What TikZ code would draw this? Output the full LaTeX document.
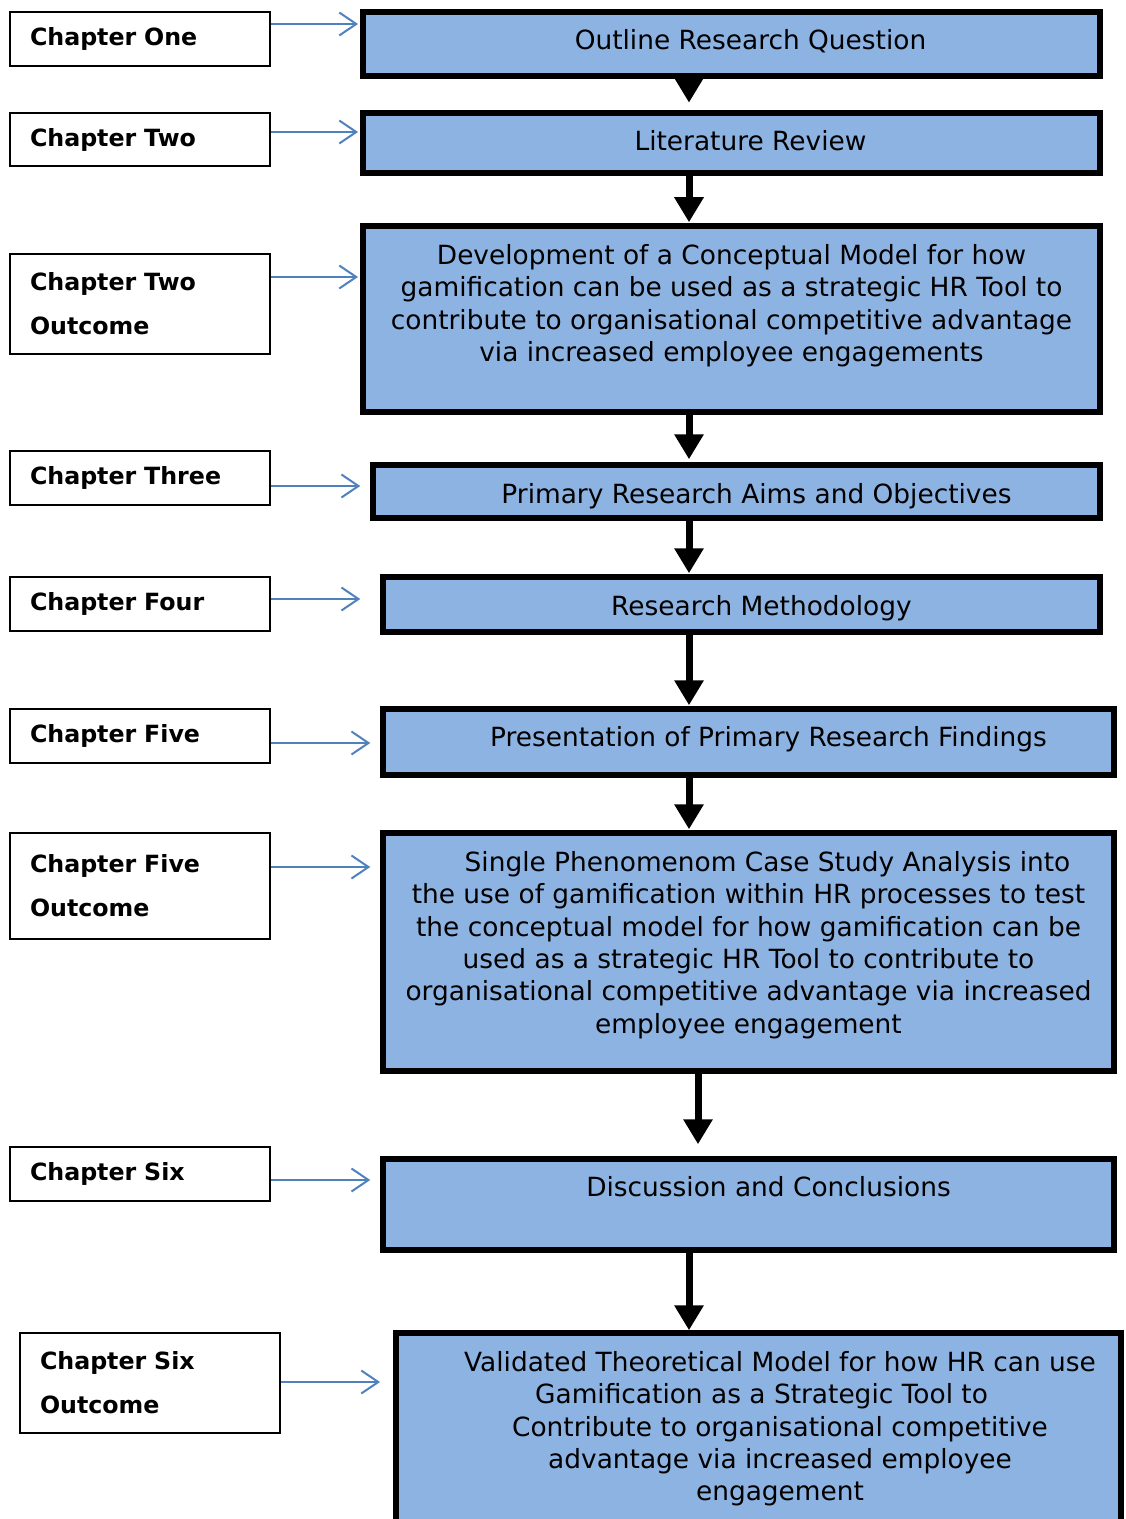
\documentclass[tikz,border=0pt]{standalone}
\usepackage{fontspec}
\setmainfont{DejaVu Sans}
\usepackage{xcolor}
\definecolor{stageblue}{HTML}{8DB3E2}
\definecolor{linkblue}{HTML}{4F81BD}
\usetikzlibrary{arrows.meta,positioning}

\begin{document}
\begin{tikzpicture}[x=0.5pt,y=-0.5pt,
  chap/.style={rectangle,draw=black,line width=0.9pt,fill=white,align=left,
    text width=110pt,inner xsep=10pt,minimum width=130pt,
    font=\bfseries\fontsize{11.85}{22}\selectfont},
  stage/.style={rectangle,draw=black,line width=2.75pt,fill=stageblue},
  stagetext/.style={align=center,inner sep=0pt,font=\fontsize{13.2}{16.2}\selectfont},
  link/.style={draw=linkblue,line width=1pt,-{Straight Barb[length=8.5pt,width=11.5pt]}},
  flow/.style={line width=3.5pt,-{Triangle[length=12.5pt,width=14pt]}}]
  \useasboundingbox (0,0) rectangle (1125,1519);
  % chapter labels on the left
  \foreach \n/\x/\y/\h/\t in {c1/140/39/27/{Chapter One},c2/140/139.5/26.5/{Chapter Two},
      c2o/140/304/50/{Chapter Two\\Outcome},c3/140/478/27/{Chapter Three},
      c4/140/604/27/{Chapter Four},c5/140/736/27/{Chapter Five},
      c5o/140/886/53/{Chapter Five\\Outcome},c6/140/1174/27/{Chapter Six},
      c6o/150/1383/50/{Chapter Six\\Outcome}}
    \node[chap,minimum height=\h pt] (\n) at (\x,\y) {\t};
  % stages of the study
  \foreach \n/\x/\y/\w/\h in {b1/731.5/44/368.5/32,b2/731.5/143/368.5/30,b3/731.5/319/368.5/93,
      b4/736.5/491.5/363.5/26.5,b5/741.5/604.5/358.5/27.5,b6/748.5/742/365.5/33,
      b7/748.5/952/365.5/119,b8/748.5/1204.5/365.5/45.5,b9/758.5/1439/362.5/106}
    \node[stage,minimum width=\w pt,minimum height=\h pt] (\n) at (\x,\y) {};
  \node[stagetext,below=8.5pt of b1.north,xshift=9.5pt] (t1) {\strut Outline Research Question};
  \node[stagetext,below=8.5pt of b2.north,xshift=9.5pt] (t2) {\strut Literature Review};
  \node[stagetext,below=9pt of b3.north] (t3)
    {\strut Development of a Conceptual Model for how\\
     gamification can be used as a strategic HR Tool to\\
     contribute to organisational competitive advantage\\
     via increased employee engagements};
  \node[stagetext,below=9pt of b4.north,xshift=10pt] (t4) {\strut Primary Research Aims and Objectives};
  \node[stagetext,below=9pt of b5.north,xshift=10pt] (t5) {\strut Research Methodology};
  \node[stagetext,below=8.5pt of b6.north,xshift=10pt] (t6) {\strut Presentation of Primary Research Findings};
  \node[stagetext,below=9pt of b7.north] (t7)
    {\strut\hspace*{19pt}Single Phenomenom Case Study Analysis into\\
     the use of gamification within HR processes to test\\
     the conceptual model for how gamification can be\\
     used as a strategic HR Tool to contribute to\\
     organisational competitive advantage via increased\\
     employee engagement};
  \node[stagetext,below=8.5pt of b8.north,xshift=10pt] (t8) {\strut Discussion and Conclusions};
  \node[stagetext,below=9pt of b9.north,xshift=10.75pt] (t9)
    {\strut Validated Theoretical Model for how HR can use\\
     Gamification as a Strategic Tool to\hspace*{18.5pt}\mbox{}\\
     Contribute to organisational competitive\\
     advantage via increased employee\\
     engagement};
  % thick arrows down the chain
  \foreach \a/\b/\x/\s in {b1/b2/689/3.8,b2/b3/689/0.5,b3/b4/689/1.5,b4/b5/689/0.5,
      b5/b6/689/0.5,b6/b7/689/0.5,b7/b8/698/6,b8/b9/689/0}
    \draw[flow,shorten >=\s pt] (\a.south -| \x,0) -- (\b.north -| \x,0);
  % thin links chapter -> stage
  \foreach \c/\b/\y/\s in {c1/b1/24/1.1,c2/b2/132/1.1,c2o/b3/277/1.1,c3/b4/486/5,
      c4/b5/599/10,c5/b6/743/5,c5o/b7/867/5,c6/b8/1180/5,c6o/b9/1382/6.6}
    \draw[link,shorten >=\s pt] (\c.east |- 0,\y) -- (\b.west |- 0,\y);
\end{tikzpicture}
\end{document}
